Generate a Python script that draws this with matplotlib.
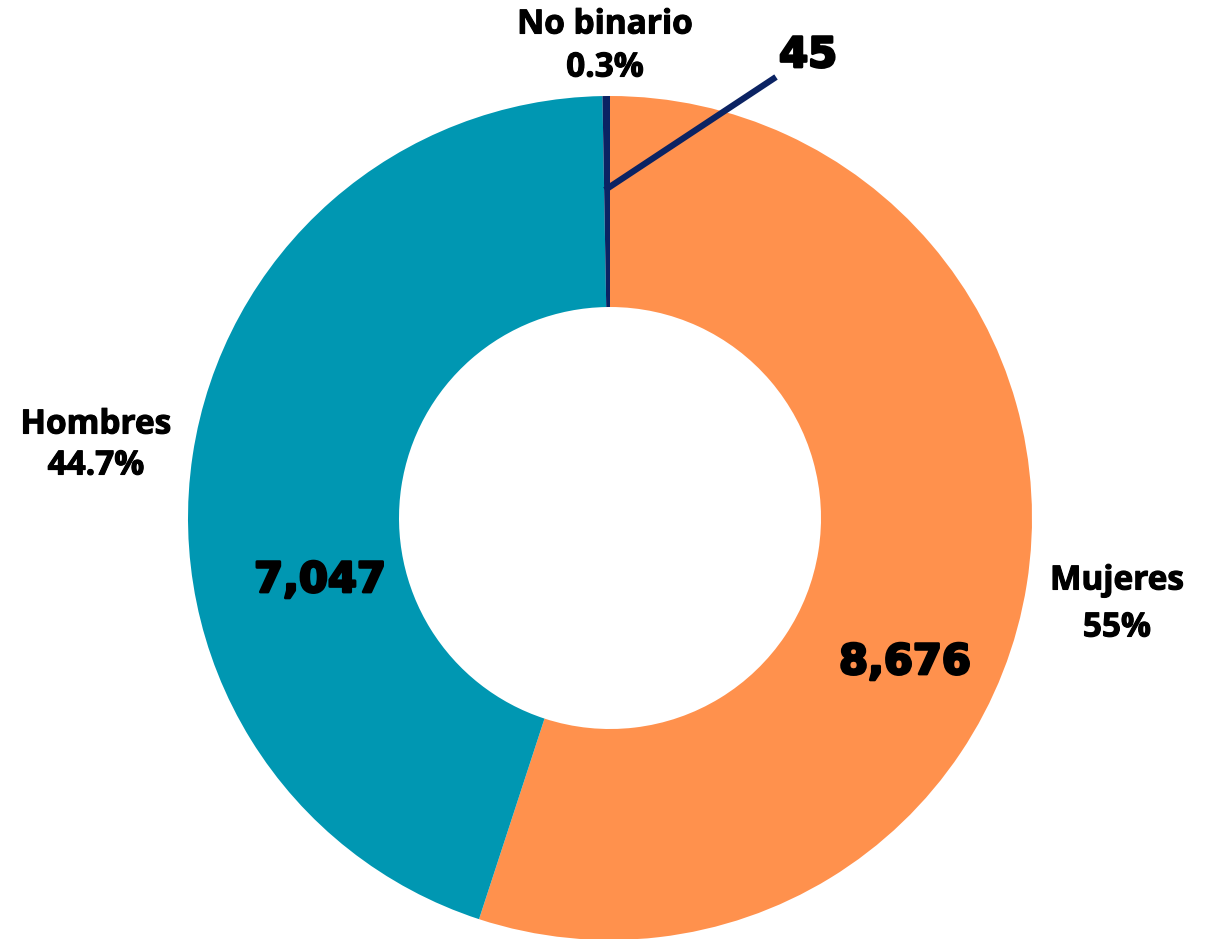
import matplotlib.pyplot as plt
import matplotlib.patheffects as pe

# datos
categorias = ['Mujeres', 'Hombres', 'No binario']
valores = [8676, 7047, 45]
porcentajes = ['55%', '44.7%', '0.3%']
colores = ['#FF914D', '#0097B2', '#0B2363']

W, H = 1213, 939
cx, cy = 610, H - 518
r_ext, ancho = 422, 211

fig = plt.figure(figsize=(W / 100, H / 100), dpi=100)
ax = fig.add_axes([0, 0, 1, 1])
ax.pie(valores, colors=colores, startangle=90, counterclock=False,
       center=(cx, cy), radius=r_ext, frame=True,
       wedgeprops=dict(width=ancho, linewidth=0))
ax.set_xlim(0, W)
ax.set_ylim(0, H)
ax.set_aspect('equal')
ax.axis('off')

# etiquetas de categoria: (x, y nombre, y porcentaje) en pixeles desde arriba
pos_etq = [(1117, 581, 628), (96, 425, 466), (605, 25, 68)]
for nombre, pct, (x, y1, y2) in zip(categorias, porcentajes, pos_etq):
    for txt, y in ((nombre, y1), (pct, y2)):
        ax.text(x, H - y, txt, ha='center', va='center',
                fontsize=24, fontweight='bold', family='Open Sans',
                color='black',
                path_effects=[pe.withStroke(linewidth=0.8, foreground='black')])

# numeros dentro del anillo
grueso = [pe.withStroke(linewidth=2, foreground='black')]
pos_num = [(905, 662), (320, 580), (808, 55)]
for v, (x, y) in zip(valores, pos_num):
    ax.text(x, H - y, f'{v:,}', ha='center', va='center',
            fontsize=30, fontweight='bold', family='DejaVu Sans',
            color='black', path_effects=grueso)

# linea guia para No binario
ax.plot([605, 776], [H - 190, H - 77], color=colores[2], linewidth=4.5,
        solid_capstyle='butt')

fig.savefig('out.png', dpi=100)
